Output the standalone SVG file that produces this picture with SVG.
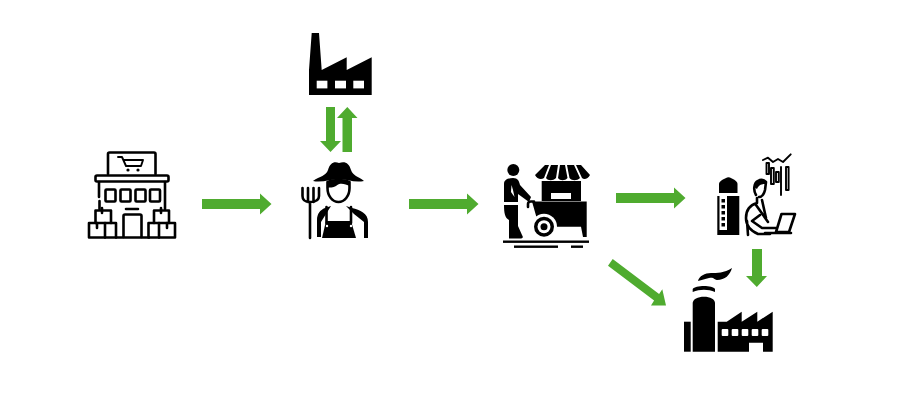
<svg xmlns="http://www.w3.org/2000/svg" width="904" height="416" viewBox="0 0 904 416">
<style>
.o{fill:none;stroke:#000;stroke-width:2.6;stroke-linecap:round;stroke-linejoin:round}
.t{fill:none;stroke:#000;stroke-width:1.9;stroke-linecap:round;stroke-linejoin:round}
.k{fill:#000}
.w{fill:#fff}
.a{fill:#4fab2f}
</style>
<rect width="904" height="416" fill="#fff"/>
<g id="connectors" class="a">
<polygon points="202,199 260,199 260,193.500 271.500,204 260,214.500 260,209 202,209"/>
<polygon points="409,199 467,199 467,193.500 478.500,204 467,214.500 467,209 409,209"/>
<polygon points="616,193 674,193 674,187.500 685.500,198 674,208.500 674,203 616,203"/>
<polygon points="326,107 335,107 335,141 341,141 330.500,152 320,141 326,141"/>
<polygon points="342.500,152 352,152 352,118 357.500,118 347.300,107 337,118 342.500,118"/>
<polygon points="752,249 762,249 762,276 767,276 756.800,287 746,276 752,276"/>
<polygon points="612.700,259 659.100,294 662.300,289.300 666,305.500 651,305.500 654.100,300.400 608,265.700"/>
</g>
<g id="store">
<path class="o" d="M108 174V154q0-1.500 1.500-1.500H154q1.500 0 1.500 1.500V174"/>
<path class="t" d="M118 157h4l4 9h15l2-6h-19"/>
<circle class="k" cx="128" cy="170" r="1.600"/><circle class="k" cx="138" cy="170" r="1.600"/>
<rect class="o" x="95.500" y="175.500" width="73" height="6" rx="1.500"/>
<path class="o" d="M99 182v15M99.500 201v8M165 182v27"/>
<rect class="o" x="105.500" y="189.500" width="10" height="12" rx="1"/>
<rect class="o" x="120.500" y="189.500" width="10" height="12" rx="1"/>
<rect class="o" x="135.500" y="189.500" width="10" height="12" rx="1"/>
<rect class="o" x="150" y="189.500" width="10" height="12" rx="1"/>
<path class="o" d="M126 209h12M123.500 237v-21q0-1.500 1.500-1.500h15q1.500 0 1.500 1.500v21"/>
<path class="o" d="M95.500 223v-12.500h15.500V223M154 223v-12.500h15V223"/>
<rect class="o" x="89" y="223" width="27" height="14.500"/>
<rect class="o" x="148.500" y="223" width="26.500" height="14.500"/>
<path class="o" d="M105 223v14.500M159 223v14.500M116 237.500h33M97 223v5M167 223v5M102 208v5M161 208v5"/>
</g>
<g id="factory-top">
<path class="k" d="M309 95V70L311.700 33H319L321.700 70L346.700 57.300V70L371.700 57.300V95Z"/>
<rect class="w" x="316.700" y="80.700" width="10.700" height="7.700"/>
<rect class="w" x="335" y="80.700" width="11" height="7.700"/>
<rect class="w" x="353.300" y="80.700" width="10.700" height="7.700"/>
</g>
<g id="farmer">
<path class="k" d="M313 181C320 176 326 176 328 170C330 163 334 161 339 163C345 161 349 163 351 170C353 176 358 176 364 181C354 183 347 179 339 179C331 179 322 183 313 181Z"/>
<path class="o" d="M327.500 182v6c0 8 5 14 11 14s11-6 11-14v-6"/>
<path class="k" d="M327 181C332 178 345 178 350 181V186C345 184 340 182 336 186C333 188 330 187 327 188Z"/>
<path class="k" d="M331 206L325 208C320 210 317 214 317 220V237H321V222L326 214ZM346 206L352 208C360 210 368 213 368 222V238H364V222L354 214Z"/>
<path class="k" d="M326 221H351L356 238H322Z"/>
<path class="o" d="M326.500 207V223M351 207V223"/>
<circle class="w" cx="327" cy="226" r="1.200"/><circle class="w" cx="351" cy="226" r="1.200"/>
<path class="o" stroke-width="2.200" d="M302.500 188v8c0 5 3 6 7.500 6s9-1 9-6v-8M308 188v14M313.500 188v14M310 202v36"/>
</g>
<g id="cart">
<circle class="k" cx="513.300" cy="170" r="6"/>
<path class="k" d="M504 184C504 179 509 178 513 178C518 178 519 181 520 185L531 197L529 202L518 194V202H504Z"/>
<path class="w" d="M511.500 185L511 192L514.500 197L513 190Z"/>
<path class="k" d="M504 205H518V226L522 235C524 238 522 238.500 520 238.500H509V220C505 218 504 213 504 205Z"/>
<path class="k" d="M535 175L545 165H549L544 178C541 180 537 179 535 175ZM551 165H558L556 178C553 181 548 181 546 178ZM560 165H565L567.500 178C565 181 560 181 558 178ZM567 165H574L580 178C577 181 572 181 569.500 178ZM576 165H581L590 175C588 179 584 180 582 178Z"/>
<path class="k" d="M541.700 181H581V201H541.700Z"/>
<rect class="w" x="551" y="193" width="20" height="6"/>
<path class="k" d="M532 201.500H586.700V237H583L581 226.700H553L540 215L536.700 218Z"/>
<path class="o" d="M528 207V204q0-2.500 3-2.500h3"/>
<circle class="w" cx="544" cy="226.700" r="13"/>
<circle class="k" cx="544" cy="226.700" r="10"/>
<circle class="w" cx="544" cy="226.700" r="6.500"/>
<circle class="k" cx="544" cy="226.700" r="3.500"/>
<rect class="k" x="503" y="240.500" width="86" height="2.400"/>
<rect class="k" x="514" y="245.500" width="44" height="2.400"/>
<rect class="k" x="571" y="245.500" width="12" height="2.400"/>
</g>
<g id="analyst">
<path class="k" d="M719 193V184C719 181 725 178 728.500 177.300C732 178 737.500 181 737.500 184V193Z"/>
<path class="k" d="M717.300 235V196H719.500V230H727V196H739.300V235Z"/>
<rect class="k" x="721.500" y="199" width="3.500" height="3.500"/><rect class="k" x="721.500" y="205" width="3.500" height="3.500"/><rect class="k" x="721.500" y="211" width="3.500" height="3.500"/><rect class="k" x="721.500" y="217" width="3.500" height="3.500"/><rect class="k" x="721.500" y="223" width="3.500" height="3.500"/>
<path class="t" d="M763 160L768 157.700L773 162L778 159L783 162L790.700 154.300"/>
<rect class="t" x="766.500" y="163" width="2.500" height="11"/>
<rect class="t" x="771" y="168" width="2.800" height="16"/>
<rect class="t" x="776" y="172" width="2.800" height="10"/>
<path class="t" d="M781 167V195"/>
<rect class="t" x="786" y="167" width="2.600" height="23"/>
<path class="o" d="M756 195C753 190 754 183 758 181C761 179 764 180 766 182L765 190C764 194 762 197 759 197"/>
<path class="k" d="M754 187C754 182 760 179 766 181L765.500 184C761 184 759 185 757 189Z"/>
<path class="o" d="M757 198V203C750 205 746 210 746 218C746 226 751 231 758 234H770M762 200L766 218M756 205L768 222M762 228L752 221L760 215M762 228H776M747 221L748 235"/>
<path class="o" d="M776 232L781.500 214H795L789 232ZM765 233H791"/>
</g>
<g id="factory-bottom">
<path class="k" d="M692.700 351.700V303C692.700 299 698 296.700 704 296.700C710 296.700 715 299 715 303V351.700Z"/>
<path class="k" d="M692.700 292V289C694 287 699 286 704 286C709 286 714 287 715 289V292C708 289 700 289 692.700 292Z"/>
<path class="k" d="M698 281C699 276 705 273 711 273C717 273 724 273 732 268C730 275 725 280 717 280C713 279 714 277 709 278C705 279 702 280 698 281Z"/>
<rect class="k" x="684" y="321.700" width="6.700" height="30"/>
<path class="k" d="M717.700 351.700V321.700H726.700L741.700 311.700V321.700L757.300 311.700V321.700L772.700 311.700V351.700H763V342.700H749V351.700Z"/>
<rect class="w" x="721.700" y="329" width="6.600" height="7" rx="1"/>
<rect class="w" x="731.700" y="329" width="6.600" height="7" rx="1"/>
<rect class="w" x="741.700" y="329" width="6.600" height="7" rx="1"/>
<rect class="w" x="751.700" y="329" width="6.600" height="7" rx="1"/>
<rect class="w" x="761.700" y="329" width="6.600" height="7" rx="1"/>
</g>
</svg>
